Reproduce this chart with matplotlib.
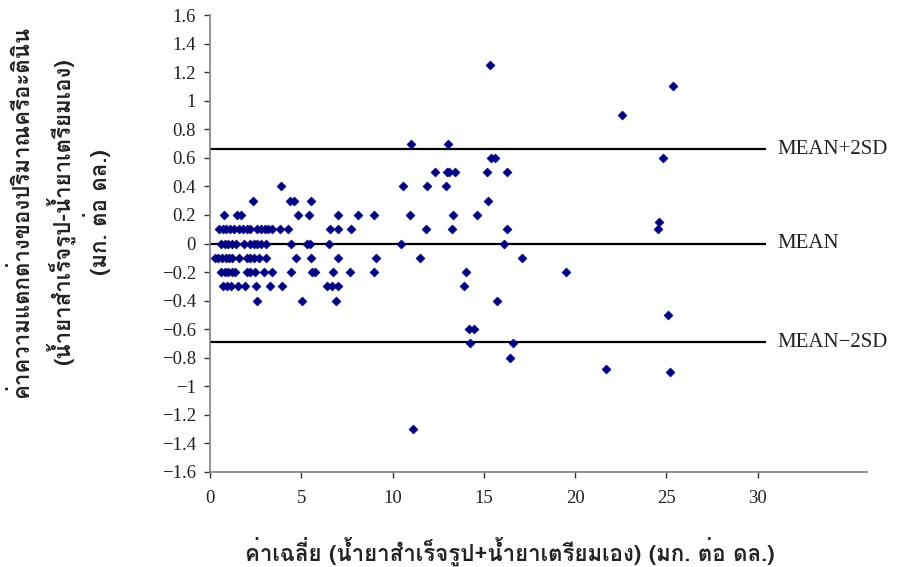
import matplotlib
matplotlib.use("Agg")
import matplotlib.pyplot as plt
from matplotlib import font_manager
from matplotlib.ft2font import FT2Font

# --- data: average (x) and difference (y) of creatinine, mg/dL ---
avg_vals = [
    3.87,
    2.37, 4.4, 4.6, 5.52, 15.26,
    0.77, 1.5, 1.7, 4.84, 5.45, 7.0, 8.1, 9.0, 10.96, 13.3, 14.64,
    0.5, 0.7, 0.9, 1.1, 1.3, 1.6, 1.8, 2.0, 2.2, 2.6, 2.8, 3.0, 3.2, 3.4,
    3.84, 4.3, 6.58, 7.0, 7.73, 11.82, 13.25, 16.3, 24.55,
    0.6, 0.8, 1.0, 1.2, 1.4, 1.88, 2.2, 2.4, 2.6, 2.8, 3.05, 4.42, 5.3,
    5.5, 6.54, 10.45, 16.12,
    0.25, 0.45, 0.65, 0.85, 1.05, 1.2, 1.6, 2.0, 2.2, 2.4, 2.7, 3.07, 4.7,
    5.52, 7.0, 9.08, 11.53, 17.1,
    0.6, 0.8, 1.0, 1.2, 1.35, 2.0, 2.2, 2.45, 2.98, 3.4, 4.42, 5.57, 5.75,
    6.76, 7.68, 9.0, 14.0, 19.5,
    0.73, 0.95, 1.15, 1.55, 1.9, 2.52, 3.29, 3.96, 6.4, 6.7, 7.0, 13.94,
    2.58, 5.06, 6.89, 15.72,
    11.02, 13.03, 15.35, 15.4, 15.6, 24.84,
    12.34, 12.97, 13.1, 13.43, 15.2, 16.3,
    10.56, 11.88, 12.92,
    24.6, 25.07, 14.2, 14.45, 14.27, 16.6, 16.46, 21.7, 25.18, 11.13,
    25.37, 22.6,
]
diff_vals = [
    0.4,
    0.3, 0.3, 0.3, 0.3, 0.3,
    0.2, 0.2, 0.2, 0.2, 0.2, 0.2, 0.2, 0.2, 0.2, 0.2, 0.2,
    0.1, 0.1, 0.1, 0.1, 0.1, 0.1, 0.1, 0.1, 0.1, 0.1, 0.1, 0.1, 0.1, 0.1,
    0.1, 0.1, 0.1, 0.1, 0.1, 0.1, 0.1, 0.1, 0.1,
    0.0, 0.0, 0.0, 0.0, 0.0, 0.0, 0.0, 0.0, 0.0, 0.0, 0.0, 0.0, 0.0,
    0.0, 0.0, 0.0, 0.0,
    -0.1, -0.1, -0.1, -0.1, -0.1, -0.1, -0.1, -0.1, -0.1, -0.1, -0.1, -0.1, -0.1,
    -0.1, -0.1, -0.1, -0.1, -0.1,
    -0.2, -0.2, -0.2, -0.2, -0.2, -0.2, -0.2, -0.2, -0.2, -0.2, -0.2, -0.2, -0.2,
    -0.2, -0.2, -0.2, -0.2, -0.2,
    -0.3, -0.3, -0.3, -0.3, -0.3, -0.3, -0.3, -0.3, -0.3, -0.3, -0.3, -0.3,
    -0.4, -0.4, -0.4, -0.4,
    0.7, 0.7, 1.25, 0.6, 0.6, 0.6,
    0.5, 0.5, 0.5, 0.5, 0.5, 0.5,
    0.4, 0.4, 0.4,
    0.15, -0.5, -0.6, -0.6, -0.7, -0.7, -0.8, -0.88, -0.9, -1.3,
    1.1, 0.9,
]

# reference lines: mean difference and limits of agreement
ref_values = [0.66, 0.0, -0.69]
ref_labels = ["MEAN+2SD", "MEAN", "MEAN\u22122SD"]

x_ticks = [0, 5, 10, 15, 20, 25, 30]
y_ticks = [round(-1.6 + 0.2 * i, 1) for i in range(17)]

x_title = "ค่าเฉลี่ย (น้ำยาสำเร็จรูป+น้ำยาเตรียมเอง) (มก. ต่อ ดล.)"
y_title_lines = [
    "ค่าความแตกต่างของปริมาณครีอะตินิน",
    "(น้ำยาสำเร็จรูป-น้ำยาเตรียมเอง)",
    "(มก. ต่อ ดล.)",
]


def thai_family():
    """Pick an installed family that covers the Thai block."""
    best = None
    for f in font_manager.fontManager.ttflist:
        try:
            cmap = FT2Font(f.fname).get_charmap()
        except Exception:
            continue
        if 0x0E04 in cmap and 0x0E33 in cmap:
            if f.weight in ("bold", 700) or "Bold" in f.fname:
                return f.name
            best = best or f.name
    return best


thai = thai_family()
thai_fam = [thai, "DejaVu Sans"] if thai else ["DejaVu Sans"]

W, H = 897, 567
fig = plt.figure(figsize=(W / 100, H / 100), dpi=100)
left, right_px, top, bottom = 210, 867, 15, 472
ax = fig.add_axes([left / W, (H - bottom) / H, (right_px - left) / W, (bottom - top) / H])

ax.scatter(avg_vals, diff_vals, marker="D", s=22, color="#000080",
           edgecolors="#000080", linewidths=0.3, zorder=3)

for val, lab in zip(ref_values, ref_labels):
    ax.plot([0, 30.45], [val, val], color="black", lw=1.6, zorder=2,
            solid_capstyle="butt")
    ax.text(31.1, val, lab, ha="left", va="center", fontsize=15,
            family="Liberation Serif", color="#222222")

ax.set_xlim(0, 36)
ax.set_ylim(-1.6, 1.6)
ax.set_xticks(x_ticks)
ax.set_yticks(y_ticks)
ax.set_xticklabels([str(t) for t in x_ticks])
ax.set_yticklabels([("%g" % t).replace("-", "\u2212") if t != 0 else "0" for t in y_ticks])

for s in ("top", "right"):
    ax.spines[s].set_visible(False)
for s in ("left", "bottom"):
    ax.spines[s].set_color("#808080")
    ax.spines[s].set_linewidth(1.2)
ax.tick_params(axis="both", direction="out", length=4, width=1.0,
               color="#333333", labelsize=13.5, pad=6)
for lbl in ax.get_xticklabels() + ax.get_yticklabels():
    lbl.set_family("Liberation Serif")
    lbl.set_color("#222222")
ax.tick_params(axis="x", pad=9)

fig.text(510 / W, 1 - 551 / H, x_title, ha="center", va="center",
         fontsize=16, fontweight="bold", family=thai_fam, color="#222222")

for xc, line in zip([20, 60, 97], y_title_lines):
    fig.text(xc / W, 1 - 212 / H, line, ha="center", va="center",
             rotation=90, fontsize=16, fontweight="bold", family=thai_fam,
             color="#222222")

fig.savefig("out.png", dpi=100, facecolor="white")
